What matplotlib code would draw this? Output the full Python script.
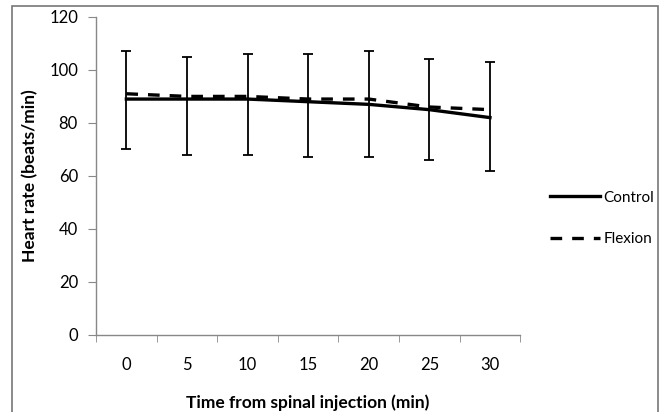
import matplotlib
matplotlib.use("Agg")
import matplotlib.pyplot as plt
from matplotlib.patches import Rectangle
import numpy as np

# Data
times = ["0", "5", "10", "15", "20", "25", "30"]
control = [89, 89, 89, 88, 87, 85, 82]
control_err_low = [19, 21, 21, 21, 20, 19, 20]
control_err_high = [18, 16, 17, 18, 20, 19, 21]
flexion = [91, 90, 90, 89, 89, 86, 85]

plt.rcParams['font.family'] = ['Lato', 'DejaVu Sans']
plt.rcParams['font.size'] = 12

fig = plt.figure(figsize=(6.67, 4.12), dpi=100)
ax = fig.add_axes([0.144, 0.187, 0.636, 0.772])

x = np.arange(len(times))
ax.errorbar(x, control, yerr=[control_err_low, control_err_high], fmt='none',
            ecolor='black', elinewidth=1.3, capsize=3.5, capthick=1.3, zorder=2)
ax.plot(x, control, color='black', linewidth=2.4, label='Control', zorder=3)
ax.plot(x, flexion, color='black', linewidth=2.4, linestyle=(0, (3.5, 3)),
        label='Flexion', zorder=3)

ax.set_xlim(-0.5, len(times) - 0.5)
ax.set_ylim(0, 120)
ax.set_yticks(range(0, 121, 20))
ax.set_xticks(x)
ax.set_xticklabels(times)
ax.set_xticks(np.arange(-0.5, len(times), 1), minor=True)
ax.tick_params(axis='x', which='major', length=0, pad=16, labelsize=12)
ax.tick_params(axis='x', which='minor', length=5, direction='out', color='#888888')
ax.tick_params(axis='y', length=6, direction='out', color='#888888', pad=7, labelsize=12)

for s in ['top', 'right']:
    ax.spines[s].set_visible(False)
for s in ['left', 'bottom']:
    ax.spines[s].set_color('#888888')
    ax.spines[s].set_linewidth(1.0)

ax.set_xlabel('Time from spinal injection (min)', fontweight='bold', fontsize=12.5, labelpad=15)
ax.set_ylabel('Heart rate (beats/min)', fontweight='bold', fontsize=12.5, labelpad=8)

ax.legend(loc='center left', bbox_to_anchor=(1.07, 0.366), frameon=False,
          handlelength=3.3, handletextpad=0.2, labelspacing=1.8, fontsize=11,
          borderaxespad=0, borderpad=0)

# grey frame around the whole chart (bottom edge falls off the image)
fig.patches.append(Rectangle((0.018, -0.02), 0.968, 1.005, transform=fig.transFigure,
                             fill=False, edgecolor='#777777', linewidth=1.2))

plt.savefig('out.png', dpi=100)
